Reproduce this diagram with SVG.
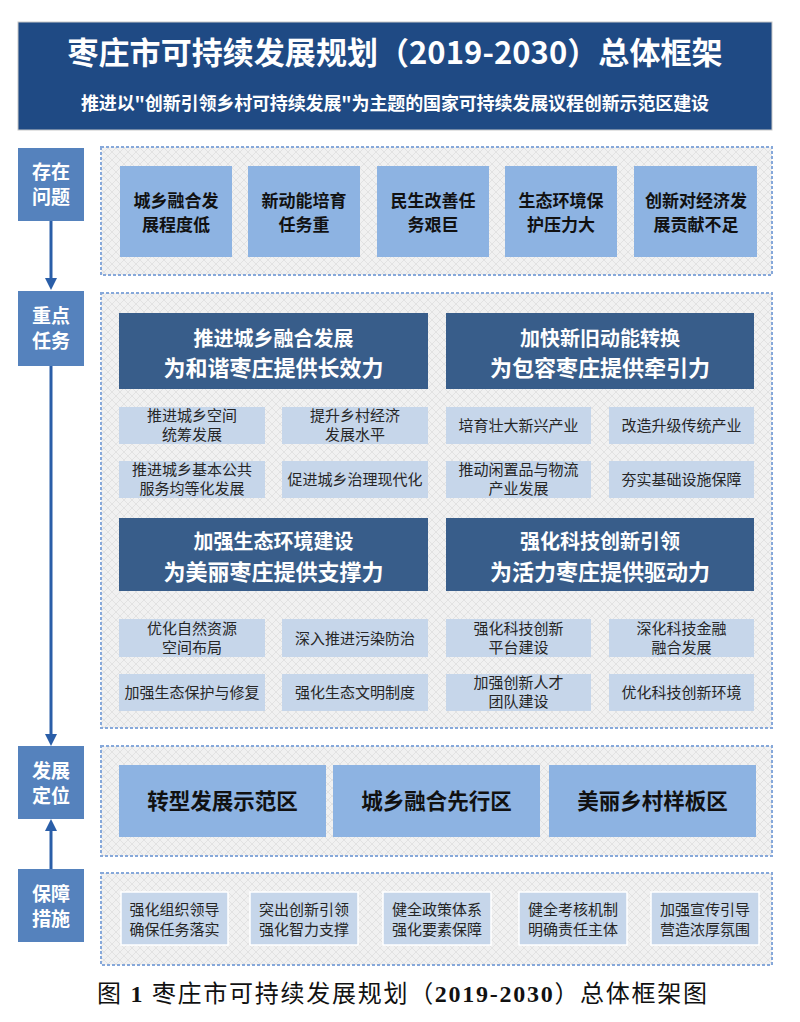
<svg xmlns="http://www.w3.org/2000/svg" width="800" height="1022" viewBox="0 0 800 1022">
<defs>
<pattern id="hatch" width="8" height="8" patternUnits="userSpaceOnUse">
<rect width="8" height="8" fill="#f1f1f1"/>
<path d="M0 0L8 8M8 0L0 8" stroke="#e2e2e2" stroke-width="1"/>
</pattern>
<marker id="ah" viewBox="0 0 12 12" refX="2" refY="6" markerWidth="12" markerHeight="12" markerUnits="userSpaceOnUse" orient="auto">
<path d="M0 0L12 6L0 12z" fill="#2a5ea8"/>
</marker>
<style>
text{font-family:"Noto Sans CJK SC","Noto Sans",sans-serif;text-anchor:middle}
.cap{font-family:"Liberation Serif","Noto Sans CJK SC",serif}
.lbl rect{fill:#5582bd}
.lbl text{fill:#ffffff;font-weight:bold;font-size:19px}
.panel{fill:url(#hatch);stroke:#86a8da;stroke-width:2;stroke-dasharray:3 2}
.prob rect{fill:#8db3e2}
.prob text{fill:#111111;font-weight:bold;font-size:17px}
.th rect{fill:#385d8a}
.th text{fill:#ffffff;font-weight:bold}
.sub rect{fill:#c6d6ea}
.sub text{fill:#262626;font-size:15px}
.pos rect{fill:#8db3e2}
.pos text{fill:#111111;font-weight:bold;font-size:21.5px}
.sup rect{fill:#c6d6ea;stroke:#ffffff;stroke-width:1.5}
.sup text{fill:#262626;font-size:15px}
.conn line{stroke:#2a5ea8;stroke-width:3;marker-end:url(#ah)}
</style>
</defs>
<rect width="800" height="1022" fill="#ffffff"/>

<g id="header">
<rect x="18" y="22" width="754" height="108" fill="#1f4a84" stroke="#c8c8c8" stroke-width="1"/>
<text x="395" y="64" font-size="31" font-weight="bold" fill="#ffffff" textLength="655" lengthAdjust="spacing">枣庄市可持续发展规划（2019-2030）总体框架</text>
<text x="395" y="110" font-size="18" font-weight="bold" fill="#ffffff" textLength="628" lengthAdjust="spacing">推进以"创新引领乡村可持续发展"为主题的国家可持续发展议程创新示范区建设</text>
</g>

<g id="panels">
<rect class="panel" x="101" y="147" width="671" height="128"/>
<rect class="panel" x="101" y="293" width="671" height="435"/>
<rect class="panel" x="101" y="746" width="671" height="110"/>
<rect class="panel" x="101" y="873" width="671" height="92"/>
</g>

<g id="connectors" class="conn">
<line x1="51" y1="221" x2="51" y2="280"/>
<line x1="51" y1="366" x2="51" y2="736"/>
<line x1="51" y1="869" x2="51" y2="829"/>
</g>

<g id="label-problems" class="lbl">
<rect x="18" y="148" width="66" height="73"/>
<text x="51" y="179">存在</text><text x="51" y="204">问题</text>
</g>
<g id="label-tasks" class="lbl">
<rect x="18" y="291" width="66" height="75"/>
<text x="51" y="323">重点</text><text x="51" y="348">任务</text>
</g>
<g id="label-position" class="lbl">
<rect x="18" y="746" width="66" height="73"/>
<text x="51" y="778">发展</text><text x="51" y="803">定位</text>
</g>
<g id="label-support" class="lbl">
<rect x="18" y="869" width="66" height="73"/>
<text x="51" y="901">保障</text><text x="51" y="926">措施</text>
</g>

<g id="prob1" class="prob"><rect x="120" y="166" width="112" height="91"/><text x="176" y="207">城乡融合发</text><text x="176" y="231">展程度低</text></g>
<g id="prob2" class="prob"><rect x="248" y="166" width="112" height="91"/><text x="304" y="207">新动能培育</text><text x="304" y="231">任务重</text></g>
<g id="prob3" class="prob"><rect x="377" y="166" width="112" height="91"/><text x="433" y="207">民生改善任</text><text x="433" y="231">务艰巨</text></g>
<g id="prob4" class="prob"><rect x="505" y="166" width="112" height="91"/><text x="561" y="207">生态环境保</text><text x="561" y="231">护压力大</text></g>
<g id="prob5" class="prob"><rect x="634" y="166" width="123" height="91"/><text x="696" y="207">创新对经济发</text><text x="696" y="231">展贡献不足</text></g>

<g id="task1" class="th"><rect x="119" y="313" width="309" height="76"/><text x="273.5" y="346" font-size="20">推进城乡融合发展</text><text x="273.5" y="376" font-size="22">为和谐枣庄提供长效力</text></g>
<g id="task2" class="th"><rect x="446" y="313" width="308" height="76"/><text x="600" y="346" font-size="20">加快新旧动能转换</text><text x="600" y="376" font-size="22">为包容枣庄提供牵引力</text></g>
<g id="task3" class="th"><rect x="119" y="518" width="309" height="73"/><text x="273.5" y="549" font-size="20">加强生态环境建设</text><text x="273.5" y="580" font-size="22">为美丽枣庄提供支撑力</text></g>
<g id="task4" class="th"><rect x="446" y="518" width="308" height="73"/><text x="600" y="549" font-size="20">强化科技创新引领</text><text x="600" y="580" font-size="22">为活力枣庄提供驱动力</text></g>

<g id="t1a" class="sub"><rect x="119" y="407" width="146" height="37"/><text x="192" y="421">推进城乡空间</text><text x="192" y="440">统筹发展</text></g>
<g id="t1b" class="sub"><rect x="282" y="407" width="146" height="37"/><text x="355" y="421">提升乡村经济</text><text x="355" y="440">发展水平</text></g>
<g id="t1c" class="sub"><rect x="119" y="461" width="146" height="37"/><text x="192" y="475">推进城乡基本公共</text><text x="192" y="494">服务均等化发展</text></g>
<g id="t1d" class="sub"><rect x="282" y="461" width="146" height="37"/><text x="355" y="485">促进城乡治理现代化</text></g>

<g id="t2a" class="sub"><rect x="446" y="407" width="145" height="37"/><text x="518.5" y="431">培育壮大新兴产业</text></g>
<g id="t2b" class="sub"><rect x="609" y="407" width="145" height="37"/><text x="681.5" y="431">改造升级传统产业</text></g>
<g id="t2c" class="sub"><rect x="446" y="461" width="145" height="37"/><text x="518.5" y="475">推动闲置品与物流</text><text x="518.5" y="494">产业发展</text></g>
<g id="t2d" class="sub"><rect x="609" y="461" width="145" height="37"/><text x="681.5" y="485">夯实基础设施保障</text></g>

<g id="t3a" class="sub"><rect x="119" y="619" width="146" height="38"/><text x="192" y="634">优化自然资源</text><text x="192" y="653">空间布局</text></g>
<g id="t3b" class="sub"><rect x="282" y="619" width="146" height="38"/><text x="355" y="643.5">深入推进污染防治</text></g>
<g id="t3c" class="sub"><rect x="119" y="674" width="146" height="37"/><text x="192" y="698">加强生态保护与修复</text></g>
<g id="t3d" class="sub"><rect x="282" y="674" width="146" height="37"/><text x="355" y="698">强化生态文明制度</text></g>

<g id="t4a" class="sub"><rect x="446" y="619" width="145" height="38"/><text x="518.5" y="634">强化科技创新</text><text x="518.5" y="653">平台建设</text></g>
<g id="t4b" class="sub"><rect x="609" y="619" width="145" height="38"/><text x="681.5" y="634">深化科技金融</text><text x="681.5" y="653">融合发展</text></g>
<g id="t4c" class="sub"><rect x="446" y="674" width="145" height="37"/><text x="518.5" y="688">加强创新人才</text><text x="518.5" y="707">团队建设</text></g>
<g id="t4d" class="sub"><rect x="609" y="674" width="145" height="37"/><text x="681.5" y="698">优化科技创新环境</text></g>

<g id="pos1" class="pos"><rect x="119" y="765" width="207" height="72"/><text x="222.5" y="809">转型发展示范区</text></g>
<g id="pos2" class="pos"><rect x="333" y="765" width="207" height="72"/><text x="436.5" y="809">城乡融合先行区</text></g>
<g id="pos3" class="pos"><rect x="549" y="765" width="207" height="72"/><text x="652.5" y="809">美丽乡村样板区</text></g>

<g id="sup1" class="sup"><rect x="121" y="892" width="107" height="53"/><text x="174.5" y="915">强化组织领导</text><text x="174.5" y="935">确保任务落实</text></g>
<g id="sup2" class="sup"><rect x="250" y="892" width="108" height="53"/><text x="304" y="915">突出创新引领</text><text x="304" y="935">强化智力支撑</text></g>
<g id="sup3" class="sup"><rect x="383" y="892" width="108" height="53"/><text x="437" y="915">健全政策体系</text><text x="437" y="935">强化要素保障</text></g>
<g id="sup4" class="sup"><rect x="519" y="892" width="108" height="53"/><text x="573" y="915">健全考核机制</text><text x="573" y="935">明确责任主体</text></g>
<g id="sup5" class="sup"><rect x="651" y="892" width="108" height="53"/><text x="705" y="915">加强宣传引导</text><text x="705" y="935">营造浓厚氛围</text></g>

<g id="caption">
<text class="cap" x="402" y="1002" font-size="24" fill="#111111" textLength="610" lengthAdjust="spacing">图 <tspan font-weight="bold">1</tspan> 枣庄市可持续发展规划（<tspan font-weight="bold">2019-2030</tspan>）总体框架图</text>
</g>
</svg>
